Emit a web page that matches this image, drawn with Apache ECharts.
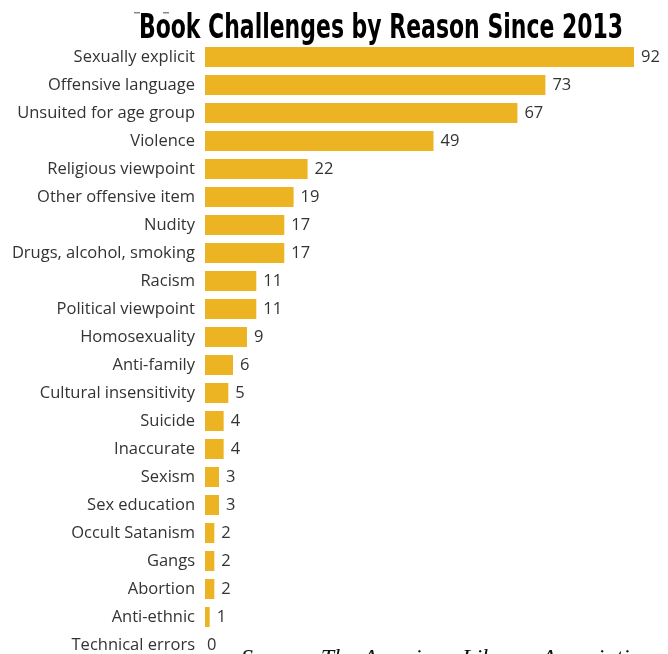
<!DOCTYPE html>
<html>
<head>
<meta charset="utf-8">
<script src="https://cdn.jsdelivr.net/npm/echarts@6/dist/echarts.min.js"></script>
<style>
  html, body { margin: 0; padding: 0; background: #fff; }
  #chart { width: 668px; height: 654px; }
</style>
</head>
<body>
<div id="chart"></div>
<script>
const reasons = [
  'Sexually explicit', 'Offensive language', 'Unsuited for age group', 'Violence',
  'Religious viewpoint', 'Other offensive item', 'Nudity', 'Drugs, alcohol, smoking',
  'Racism', 'Political viewpoint', 'Homosexuality', 'Anti-family',
  'Cultural insensitivity', 'Suicide', 'Inaccurate', 'Sexism',
  'Sex education', 'Occult Satanism', 'Gangs', 'Abortion',
  'Anti-ethnic', 'Technical errors'
]
const challenges = [92, 73, 67, 49, 22, 19, 17, 17, 11, 11, 9, 6, 5, 4, 4, 3, 3, 2, 2, 2, 1, 0]

// zero-length bar: label sits right at the axis
const barData = challenges.map(v => v === 0 ? { value: v, label: { distance: 2 } } : v)

const chart = echarts.init(document.getElementById('chart'))
const option = {
  animation: false,
  grid: {
    left: 205,
    right: 34,
    top: 43,
    height: 616,
    outerBoundsMode: 'none'
  },
  xAxis: {
    type: 'value',
    min: 0,
    max: 92,
    show: false
  },
  yAxis: {
    type: 'category',
    data: reasons,
    inverse: true,
    axisLine: { show: false },
    axisTick: { show: false },
    axisLabel: {
      margin: 10,
      color: '#333',
      fontSize: 16.5,
      fontFamily: 'Open Sans'
    }
  },
  series: [
    {
      type: 'bar',
      data: barData,
      barWidth: 20,
      itemStyle: { color: '#ECB423' },
      label: {
        show: true,
        position: 'right',
        distance: 7,
        color: '#333',
        fontSize: 16.5,
        fontFamily: 'Open Sans'
      }
    }
  ],
  graphic: [
    // remnants of cropped text above the title
    { type: 'rect', shape: { x: 134, y: 12, width: 6, height: 1.5 }, style: { fill: '#888' } },
    { type: 'rect', shape: { x: 163, y: 12, width: 6, height: 1.5 }, style: { fill: '#888' } },
    {
      type: 'text',
      x: 381,
      y: 29,
      scaleX: 0.74,
      style: {
        text: 'Book Challenges by Reason Since 2013',
        fill: '#000',
        font: 'bold 33px "Liberation Sans Narrow", "DejaVu Sans Condensed", sans-serif',
        textAlign: 'center',
        textVerticalAlign: 'middle'
      }
    },
    {
      type: 'text',
      left: 241,
      top: 647,
      style: {
        text: 'Source: The American Library Association',
        fill: '#111',
        font: 'italic 24px "Liberation Serif", serif'
      }
    }
  ]
}
option && chart.setOption(option)
</script>
</body>
</html>
